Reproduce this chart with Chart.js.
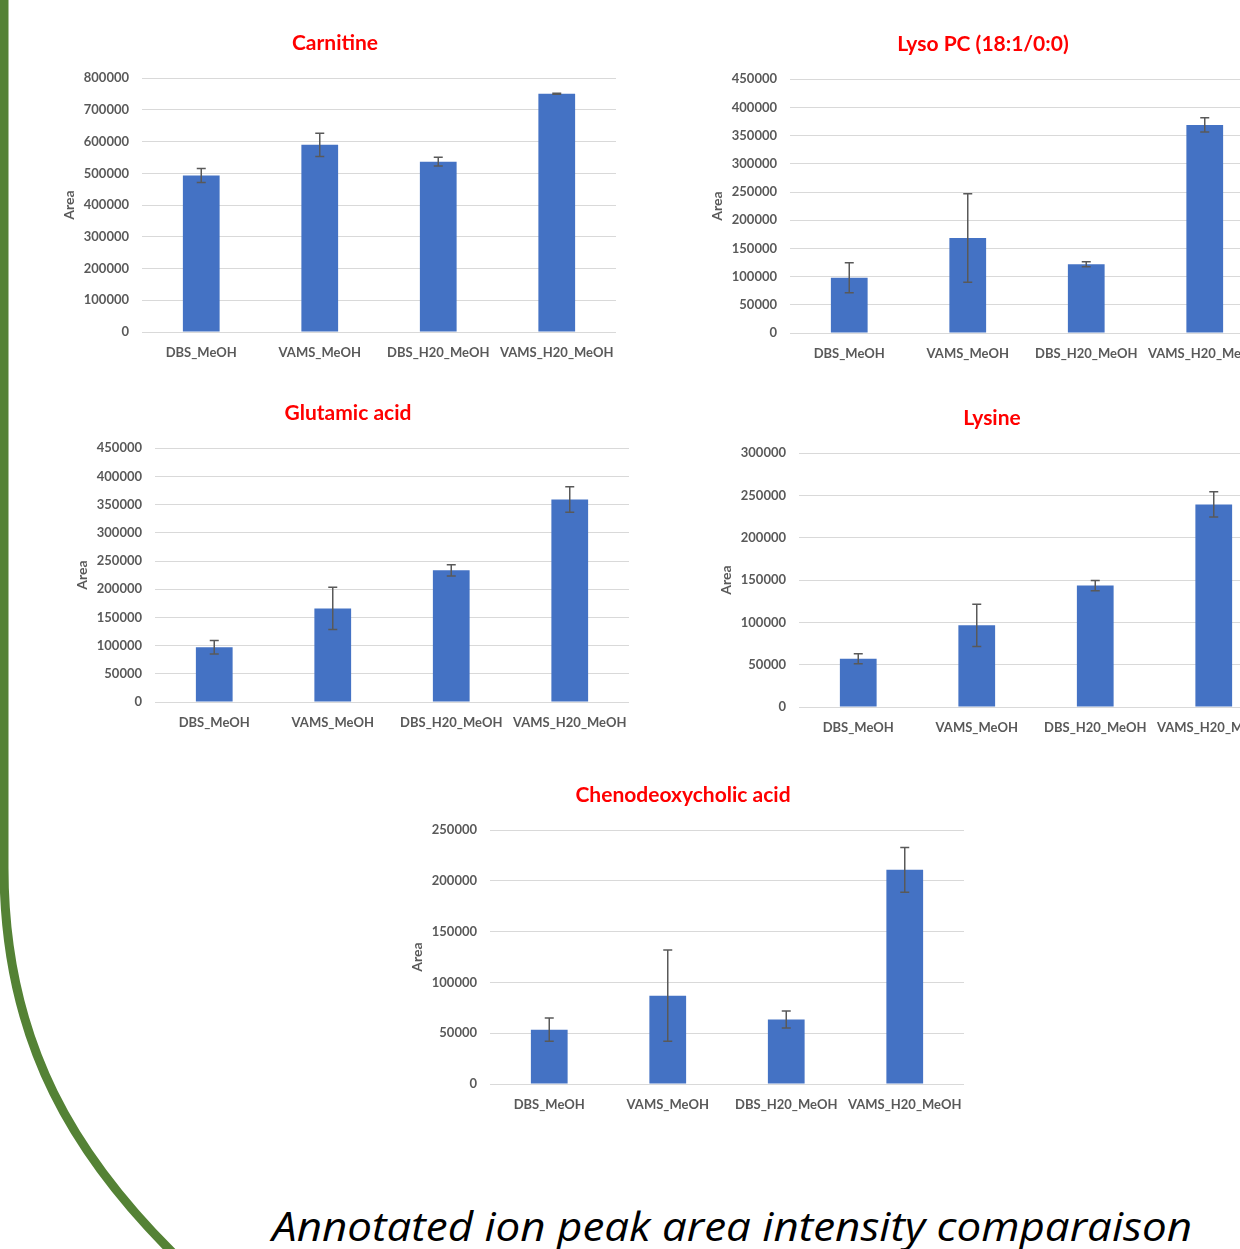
<!DOCTYPE html>
<html><head><meta charset="utf-8">
<script src="https://cdn.jsdelivr.net/npm/chart.js@4.4.1/dist/chart.umd.min.js"></script>
<style>
html,body{margin:0;padding:0;width:1240px;height:1249px;overflow:hidden;background:#fff;position:relative;}
canvas.c{position:absolute;}
#caption{position:absolute;left:272px;top:1206px;font-family:"Open Sans","Noto Sans",sans-serif;font-style:italic;font-weight:400;font-size:40px;line-height:40px;white-space:nowrap;transform-origin:0 0;color:#000;}
</style></head><body>
<svg width="1240" height="1249" style="position:absolute;left:0;top:0">
  <path d="M4,-5 L4,868 C4,1045 78,1160 178,1258" stroke="#548235" stroke-width="9" fill="none"/>
</svg>
<canvas id="c1" class="c" width="590" height="351" style="left:40px;top:21px"></canvas>
<canvas id="c2" class="c" width="590" height="351" style="left:688px;top:22px"></canvas>
<canvas id="c3" class="c" width="590" height="351" style="left:53px;top:391px"></canvas>
<canvas id="c4" class="c" width="590" height="351" style="left:697px;top:396px"></canvas>
<canvas id="c5" class="c" width="590" height="351" style="left:388px;top:773px"></canvas>
<div id="caption">Annotated ion peak area intensity comparaison</div>
<script>
const categories = ['DBS_MeOH', 'VAMS_MeOH', 'DBS_H20_MeOH', 'VAMS_H20_MeOH'];

const carnitineValues = [493000, 590000, 537000, 751000];
const carnitineErrors = [22000, 36500, 14000, 1500];

const lysoPCValues = [98000, 168500, 122000, 369000];
const lysoPCErrors = [26500, 78500, 4500, 12500];

const glutamicValues = [97000, 166000, 233500, 359000];
const glutamicErrors = [12000, 37500, 10000, 22500];

const lysineValues = [57000, 96500, 143500, 239500];
const lysineErrors = [6000, 25000, 6000, 15000];

const chenoValues = [53500, 87000, 63500, 211000];
const chenoErrors = [11500, 45000, 8300, 22000];

const chartTitles = ['Carnitine', 'Lyso PC (18:1/0:0)', 'Glutamic acid', 'Lysine', 'Chenodeoxycholic acid'];
const yAxisMax = [800000, 450000, 450000, 300000, 250000];
const yAxisStep = [100000, 50000, 50000, 50000, 50000];
const yAxisTitle = 'Area';

const FONT = 'Lato, "Open Sans", sans-serif';
const GREY = '#595959';

const errorBarPlugin = {
  id: 'errorBars',
  afterDatasetsDraw(chart) {
    const ctx = chart.ctx;
    const meta = chart.getDatasetMeta(0);
    const ds = chart.data.datasets[0];
    const ys = chart.scales.y;
    ctx.save();
    ctx.strokeStyle = GREY;
    ctx.lineWidth = 1.5;
    meta.data.forEach((bar, i) => {
      const v = ds.data[i], e = ds.errors[i];
      const x = bar.x;
      const yt = ys.getPixelForValue(v + e);
      const yb = ys.getPixelForValue(v - e);
      ctx.beginPath();
      ctx.moveTo(x, yt); ctx.lineTo(x, yb);
      ctx.moveTo(x - 4.5, yt); ctx.lineTo(x + 4.5, yt);
      ctx.moveTo(x - 4.5, yb); ctx.lineTo(x + 4.5, yb);
      ctx.stroke();
    });
    ctx.restore();
  }
};

function makeChart(id, idx, values, errors) {
  return new Chart(document.getElementById(id), {
    type: 'bar',
    data: {
      labels: categories,
      datasets: [{
        data: values,
        errors: errors,
        backgroundColor: '#4472C4',
        borderWidth: 0,
        categoryPercentage: 1,
        barPercentage: 0.31
      }]
    },
    plugins: [errorBarPlugin],
    options: {
      responsive: false,
      animation: false,
      layout: { padding: { left: 14, right: 14, top: 0, bottom: 0 } },
      plugins: {
        legend: { display: false },
        tooltip: { enabled: false },
        title: {
          display: true,
          text: chartTitles[idx],
          color: '#FF0000',
          font: { family: FONT, size: 21, weight: 'bold', lineHeight: 1.2 },
          padding: { top: 10, bottom: 22 }
        }
      },
      scales: {
        x: {
          grid: { display: false, drawTicks: false },
          border: { display: false },
          ticks: {
            color: GREY, autoSkip: false, maxRotation: 0, minRotation: 0, padding: 13,
            font: { family: FONT, size: 13, weight: 'bold' }
          },
          afterFit(s) { s.height = 40; }
        },
        y: {
          min: 0, max: yAxisMax[idx],
          grid: { color: '#D9D9D9', lineWidth: 1, drawTicks: false },
          border: { display: false },
          ticks: {
            stepSize: yAxisStep[idx], color: GREY, padding: 13,
            font: { family: FONT, size: 13, weight: 'bold' },
            callback: (v) => String(v)
          },
          title: {
            display: true, text: yAxisTitle, color: GREY,
            font: { family: FONT, size: 14, weight: 'bold' },
            padding: { top: 7, bottom: 0 }
          },
          afterFit(s) { s.width = 88; }
        }
      }
    }
  });
}

makeChart('c1', 0, carnitineValues, carnitineErrors);
makeChart('c2', 1, lysoPCValues, lysoPCErrors);
makeChart('c3', 2, glutamicValues, glutamicErrors);
makeChart('c4', 3, lysineValues, lysineErrors);
makeChart('c5', 4, chenoValues, chenoErrors);

const cap = document.getElementById('caption');
const w = cap.getBoundingClientRect().width;
cap.style.transform = 'scaleX(' + (920 / w) + ')';
</script>
</body></html>
